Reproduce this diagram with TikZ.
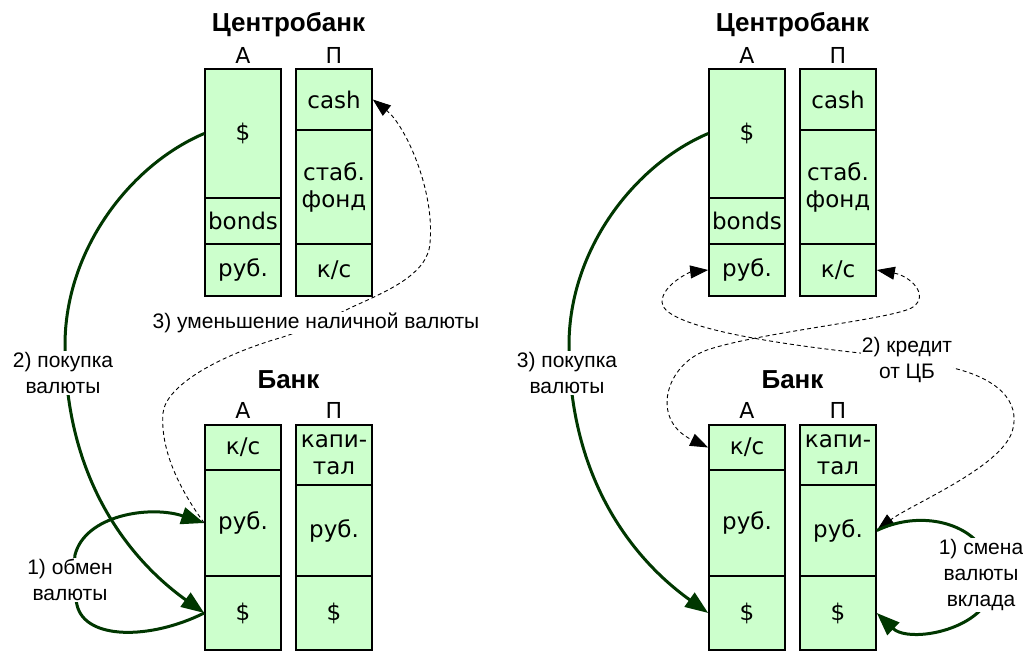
\documentclass[tikz,border=0pt]{standalone}
\usepackage{fontspec}
\setmainfont{Liberation Sans}
\newfontfamily\boxfont{DejaVu Sans}
\usetikzlibrary{arrows.meta}
\definecolor{cellgreen}{RGB}{204,255,204}
\definecolor{dkgreen}{RGB}{0,55,0}
\tikzset{
  cell/.style={draw=black, line width=1.6pt, fill=cellgreen, minimum width=76pt,
    inner sep=0pt, align=center, font=\boxfont\fontsize{23}{27}\selectfont},
  hdr/.style={font=\boxfont\fontsize{22}{26}\selectfont, inner sep=0pt},
  ttl/.style={font=\bfseries\fontsize{26}{30}\selectfont, inner sep=0pt},
  lbl/.style={font=\fontsize{21}{26}\selectfont, align=center, fill=white, inner sep=1pt},
  garrow/.style={draw=dkgreen, line width=3pt, -{Triangle[length=23pt,width=17pt]}},
  darrow/.style={draw=black, line width=0.9pt, dash pattern=on 4pt off 3pt,
    -{Triangle[length=18pt,width=13pt]}},
  ddarrow/.style={draw=black, line width=0.9pt, dash pattern=on 4pt off 3pt,
    {Triangle[length=18pt,width=13pt]}-{Triangle[length=18pt,width=13pt]}}
}
\begin{document}
\begin{tikzpicture}[x=1pt,y=-1pt]
\useasboundingbox (0,0) rectangle (1023,651);
% ---------------- left: Centrobank ----------------
\node[ttl] (lcT) at (288.5,25) {Центробанк};
\node[hdr] (lcHA) at (243,55) {А};
\node[hdr] (lcHP) at (334,55) {П};
\node[cell, minimum height=129pt] (lcAd) at (243,133.5) {\$};
\node[cell, minimum height=46pt] (lcAb) at (243,221) {bonds};
\node[cell, minimum height=52pt] (lcAr) at (243,270) {руб.};
\node[cell, minimum height=61pt] (lcPc) at (334,99.5) {cash};
\node[cell, minimum height=114pt] (lcPf) at (334,187) {стаб.\\фонд};
\node[cell, minimum height=52pt] (lcPk) at (334,270) {к/с};
% ---------------- left: Bank ----------------
\node[ttl] (lbT) at (288.5,380) {Банк};
\node[hdr] (lbHA) at (243,410) {А};
\node[hdr] (lbHP) at (334,410) {П};
\node[cell, minimum height=45pt] (lbAk) at (243,447.5) {к/с};
\node[cell, minimum height=106pt] (lbAr) at (243,523) {руб.};
\node[cell, minimum height=74pt] (lbAd) at (243,613) {\$};
\node[cell, minimum height=60pt] (lbPk) at (334,455) {капи-\\тал};
\node[cell, minimum height=91pt] (lbPr) at (334,530.5) {руб.};
\node[cell, minimum height=74pt] (lbPd) at (334,613) {\$};
% ---------------- right: Centrobank ----------------
\node[ttl] (rcT) at (792.5,25) {Центробанк};
\node[hdr] (rcHA) at (747,55) {А};
\node[hdr] (rcHP) at (838,55) {П};
\node[cell, minimum height=129pt] (rcAd) at (747,133.5) {\$};
\node[cell, minimum height=46pt] (rcAb) at (747,221) {bonds};
\node[cell, minimum height=52pt] (rcAr) at (747,270) {руб.};
\node[cell, minimum height=61pt] (rcPc) at (838,99.5) {cash};
\node[cell, minimum height=114pt] (rcPf) at (838,187) {стаб.\\фонд};
\node[cell, minimum height=52pt] (rcPk) at (838,270) {к/с};
% ---------------- right: Bank ----------------
\node[ttl] (rbT) at (792.5,380) {Банк};
\node[hdr] (rbHA) at (747,410) {А};
\node[hdr] (rbHP) at (838,410) {П};
\node[cell, minimum height=45pt] (rbAk) at (747,447.5) {к/с};
\node[cell, minimum height=106pt] (rbAr) at (747,523) {руб.};
\node[cell, minimum height=74pt] (rbAd) at (747,613) {\$};
\node[cell, minimum height=60pt] (rbPk) at (838,455) {капи-\\тал};
\node[cell, minimum height=91pt] (rbPr) at (838,530.5) {руб.};
\node[cell, minimum height=74pt] (rbPd) at (838,613) {\$};
% ---------------- left arrows ----------------
\draw[garrow] (lcAd.west) .. controls (130,165) and (65,250) .. (65,345)
  .. controls (65,480) and (130,560) .. (lbAd.west);
\draw[garrow] (lbAd.west) .. controls (150,640) and (85,640) .. (77,605)
  .. controls (73,585) and (73,575) .. (75,555)
  .. controls (85,515) and (150,505) .. (lbAr.west);
\draw[darrow] (lbAr.west) .. controls (180,490) and (160,450) .. (163,413)
  .. controls (166,385) and (220,355) .. (283,337)
  .. controls (310,328) and (330,318) .. (350,308)
  .. controls (385,292) and (428,275) .. (430,243)
  .. controls (435,190) and (405,125) .. (lcPc.east);
% ---------------- right arrows ----------------
\draw[garrow] (rcAd.west) .. controls (634,165) and (569,250) .. (569,345)
  .. controls (569,480) and (634,560) .. (rbAd.west);
\draw[ddarrow] (rcAr.west) .. controls (690,272) and (662,285) .. (662,302)
  .. controls (662,325) and (760,342) .. (860,353)
  .. controls (900,358) and (920,362) .. (953,368)
  .. controls (995,378) and (1022,400) .. (1012,432)
  .. controls (1000,468) and (910,505) .. (rbPr.east);
\draw[ddarrow] (rcPk.east) .. controls (910,276) and (930,295) .. (913,307)
  .. controls (896,319) and (760,332) .. (707,350)
  .. controls (665,365) and (650,420) .. (rbAk.west);
\draw[garrow] (rbPr.east) .. controls (915,512) and (960,520) .. (980,545)
  .. controls (1000,570) and (1000,595) .. (975,615)
  .. controls (950,635) and (905,640) .. (rbPd.east);
% ---------------- labels ----------------
\node[lbl] (l2) at (63,373) {2) покупка\\валюты};
\node[lbl] (l1) at (70,580) {1) обмен\\валюты};
\node[lbl] (l3) at (316,323) {3) уменьшение наличной валюты};
\node[lbl] (r3) at (567,373) {3) покупка\\валюты};
\node[lbl] (r2) at (907,360) {2) кредит\\от ЦБ};
\node[lbl] (r1) at (981,575) {1) смена\\валюты\\вклада};
\end{tikzpicture}
\end{document}
